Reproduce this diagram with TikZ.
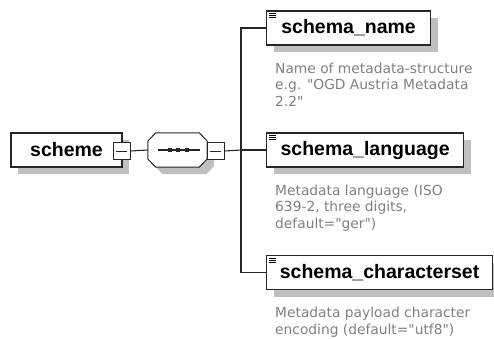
\documentclass[tikz,border=0pt]{standalone}
\usepackage{fontspec}
\setmainfont{Liberation Sans}
\newfontfamily\docfont{DejaVu Sans}
\usetikzlibrary{calc,positioning,shadows}

\begin{document}
\begin{tikzpicture}[x=1pt,y=-1pt]

\tikzset{elembox/.style={draw=black!85,line width=1.2pt,fill=white,minimum height=34pt,inner sep=0,
  font=\fontsize{19.5}{22}\selectfont\bfseries,
  drop shadow={shadow xshift=7pt,shadow yshift=-7pt,fill=black!25,opacity=1,draw=none}},
minusbox/.style={draw=black!85,line width=0.9pt,fill=white,minimum width=17pt,minimum height=17pt,inner sep=0,
  path picture={\draw[line width=0.9pt] ([xshift=3pt]path picture bounding box.west) -- ([xshift=-3pt]path picture bounding box.east);}},
seqshadow/.style={fill=black!25},
seqline/.style={draw=black!85,line width=1pt,fill=white},
docnote/.style={anchor=north west,align=left,inner sep=0,text=black!50,font=\docfont\fontsize{13.8}{16.6}\selectfont},
conn/.style={line width=1.1pt,draw=black!85}}

\useasboundingbox (0,0) rectangle (494,338);

% Root element and sequence
\node (scheme) [elembox,minimum width=111pt] at (66.5,150) {scheme};
\node (schememinus) [minusbox] at (121.5,151) {};
\node (seq) [minimum width=59pt,minimum height=34pt,inner sep=0] at (177.5,150) {};
\foreach \o/\sty in {7/seqshadow, 0/seqline}
  \path[\sty] ($(seq.west)+(\o,\o-9)$) -- ($(seq.north west)+(\o+8,\o)$) -- ($(seq.north east)+(\o-8,\o)$)
    -- ($(seq.east)+(\o,\o-9)$) -- ($(seq.east)+(\o,\o+9)$) -- ($(seq.south east)+(\o-8,\o)$)
    -- ($(seq.south west)+(\o+8,\o)$) -- ($(seq.west)+(\o,\o+9)$) -- cycle;
\node (seqminus) [minusbox] at (215.5,151) {};
\coordinate (bus) at (241,150);

% Sequence marker
\draw[conn] ($(seq.center)+(-20,0)$) -- ($(seq.center)+(22,0)$);
\foreach \dx in {-7.5,0.8,9.2} \fill[black!85] ($(seq.center)+(\dx,0)$) +(-2,-2) rectangle +(2,2);

% Child elements
\node (name) [elembox,anchor=west,minimum width=164pt] at (266,28) {schema\_name};
\node (lang) [elembox,anchor=west,minimum width=197pt] at (266,150) {schema\_language};
\node (chars) [elembox,anchor=west,minimum width=226pt] at (266,272.5) {schema\_characterset};
\foreach \el in {name,lang,chars}
  \foreach \k in {0,1,2} \draw[line width=0.8pt] ($(\el.north west)+(2.5,3+2.2*\k)$) -- +(7,0);

% Documentation
\node (namedoc) [docnote] at ($(name.south west)+(9,17)$) {Name of metadata-structure\\ e.g. "OGD Austria Metadata\\ 2.2"};
\node (langdoc) [docnote] at ($(lang.south west)+(9,17)$) {Metadata language (ISO\\ 639-2, three digits,\\ default="ger")};
\node (charsdoc) [docnote] at ($(chars.south west)+(9,17)$) {Metadata payload character\\ encoding (default="utf8")};

%% Edges
\draw[conn] (schememinus.east) -- (seq.west);
\draw[conn] (seqminus.east) -- (bus);
\foreach \el in {name,lang,chars}
  \draw[conn] (bus) |- (\el.west);
\end{tikzpicture}
\end{document}
